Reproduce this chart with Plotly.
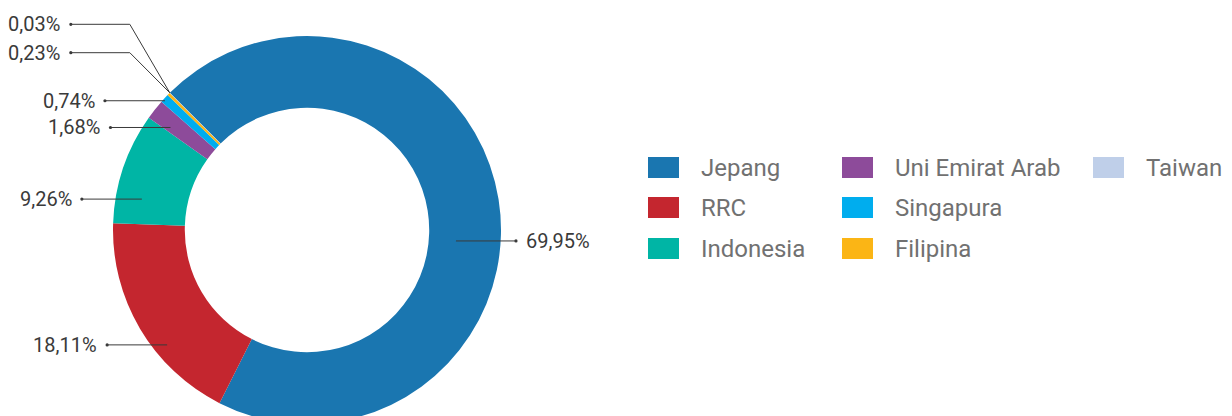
import math
import plotly.graph_objects as go

# ---------------- data ----------------
categories = ["Jepang", "RRC", "Indonesia", "Uni Emirat Arab", "Singapura", "Filipina", "Taiwan"]
shares = [69.95, 18.11, 9.26, 1.68, 0.74, 0.23, 0.03]
colors = ["#1a76b0", "#c4262f", "#00b5a5", "#8d4b9a", "#00adee", "#fbb515", "#bfcfe9"]

# ---------------- style / layout ----------------
W, H = 1232, 416
OFF = 8                              # page offset of the figure inside the window (px)
CX, CY, R = 307, 230, 194            # donut centre and outer radius (window px)
HOLE = 0.63
ROTATION = -45                       # first slice starts 45 deg left of 12 o'clock

# label placement: anchor point inside the slice (polar, deg clockwise from top, fraction of R)
label_anchor_deg = [94.2, 230.6, 280.6, 306.9, 312.3, 315.0, 315.0]
label_anchor_r = [0.77, 0.933, 0.866, 0.88, 0.99, 1.0, 1.0]
label_side = ["right", "left", "left", "left", "left", "left", "left"]
label_elbow_y = [None, None, None, None, None, 52.7, 24.3]
LEADER = 60

legend_col_x = [648, 842, 1093]
legend_row_y = [167.5, 207.5, 248.5]
SW_W, SW_H = 31, 21
LEG_TEXT_DX = 51

FONT = "Roboto"
LABEL_COLOR = "#3a3a3a"
LEGEND_COLOR = "#717171"


def px(x):
    return (x - OFF) / W


def py(y):
    return 1 - (y - OFF) / H


fig = go.Figure()
fig.add_trace(go.Pie(
    labels=categories,
    values=shares,
    marker=dict(colors=colors, line=dict(width=0)),
    hole=HOLE,
    sort=False,
    direction="clockwise",
    rotation=ROTATION,
    textinfo="none",
    hoverinfo="label+percent",
    showlegend=False,
    domain=dict(x=[px(CX - R), px(CX + R)], y=[max(0, py(CY + R)), py(CY - R)]),
))

shapes = []
annotations = []

for i, v in enumerate(shares):
    ang = math.radians(label_anchor_deg[i])
    ax = CX + label_anchor_r[i] * R * math.sin(ang)
    ay = CY - label_anchor_r[i] * R * math.cos(ang)
    text = f"{v:.2f}".replace(".", ",") + "%"
    if label_elbow_y[i] is None:
        ly = ay
        if label_side[i] == "right":
            dx = ax + LEADER
            tx, xa = dx + 8, "left"
        else:
            dx = ax - LEADER
            tx, xa = dx - 8, "right"
        shapes.append(dict(type="line", xref="paper", yref="paper",
                           x0=px(ax), y0=py(ly), x1=px(dx), y1=py(ly),
                           line=dict(color=LABEL_COLOR, width=1)))
    else:
        ly = label_elbow_y[i]
        ex = ax - 40
        dx = ax - 99
        tx, xa = dx - 9, "right"
        shapes.append(dict(type="line", xref="paper", yref="paper",
                           x0=px(ax), y0=py(ay), x1=px(ex), y1=py(ly),
                           line=dict(color=LABEL_COLOR, width=1)))
        shapes.append(dict(type="line", xref="paper", yref="paper",
                           x0=px(ex), y0=py(ly), x1=px(dx), y1=py(ly),
                           line=dict(color=LABEL_COLOR, width=1)))
    shapes.append(dict(type="circle", xref="paper", yref="paper",
                       x0=px(dx - 1.6), x1=px(dx + 1.6), y0=py(ly + 1.6), y1=py(ly - 1.6),
                       fillcolor=LABEL_COLOR, line=dict(width=0)))
    annotations.append(dict(xref="paper", yref="paper", x=px(tx), y=py(ly),
                            xanchor=xa, yanchor="middle", showarrow=False, text=text,
                            font=dict(family=FONT, size=20, color=LABEL_COLOR)))

# custom legend (column-major, 3 rows)
for i, name in enumerate(categories):
    col, row = divmod(i, 3)
    x0 = legend_col_x[col]
    yc = legend_row_y[row]
    shapes.append(dict(type="rect", xref="paper", yref="paper",
                       x0=px(x0), x1=px(x0 + SW_W), y0=py(yc + SW_H / 2), y1=py(yc - SW_H / 2),
                       fillcolor=colors[i], line=dict(width=0)))
    annotations.append(dict(xref="paper", yref="paper", x=px(x0 + LEG_TEXT_DX), y=py(yc),
                            xanchor="left", yanchor="middle", showarrow=False, text=name,
                            font=dict(family=FONT, size=24, color=LEGEND_COLOR)))

fig.update_layout(
    width=W, height=H,
    margin=dict(l=0, r=0, t=0, b=0),
    paper_bgcolor="white", plot_bgcolor="white",
    showlegend=False,
    shapes=shapes,
    annotations=annotations,
)

fig.write_html("out.html")
